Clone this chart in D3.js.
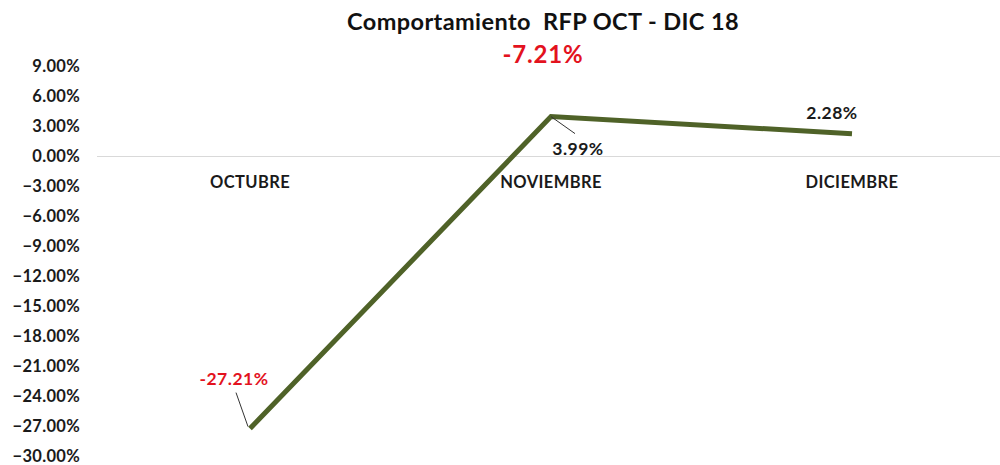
<!DOCTYPE html>
<html><head><meta charset="utf-8">
<script src="https://cdn.jsdelivr.net/npm/d3@7"></script>
<style>body{margin:0;background:#fff}svg{display:block}text{font-family:Lato,"Open Sans",sans-serif;font-weight:bold}</style>
</head><body><svg id="c" width="1000" height="465"></svg>
<script>
const categories = ["OCTUBRE","NOVIEMBRE","DICIEMBRE"];
const values = [-27.21, 3.99, 2.28];
const labels = ["-27.21%","3.99%","2.28%"];
const labelColors = ["#e3121e","#1a1a1a","#1a1a1a"];
const yTicks = [9,6,3,0,-3,-6,-9,-12,-15,-18,-21,-24,-27,-30];
const title = "Comportamiento  RFP OCT - DIC 18";
const subtitle = "-7.21%";

const svg = d3.select("#c");
const x = d3.scalePoint().domain(categories).range([250, 852]);
const y = d3.scaleLinear().domain([-30, 9]).range([456.5, 66.5]);

// zero line
svg.append("line").attr("x1", 97).attr("x2", 1000).attr("y1", y(0)).attr("y2", y(0))
  .attr("stroke", "#d9d9d9").attr("stroke-width", 1.2);

// y axis labels
const yAxis = d3.axisLeft(y).tickValues(yTicks).tickFormat(d => d3.format(".2f")(d) + "%").tickSize(0).tickPadding(0);
const ga = svg.append("g").attr("transform", "translate(80,0)").call(yAxis);
ga.select(".domain").remove();
ga.selectAll("text").attr("font-size", 16.5).attr("fill", "#1a1a1a").attr("font-family", "Lato")
  .attr("font-weight", "bold").attr("letter-spacing", 0.3);

// category labels
svg.append("g").selectAll("text").data(categories).join("text")
  .attr("x", d => x(d)).attr("y", y(0) + 31).attr("text-anchor", "middle")
  .attr("font-size", 16.5).attr("letter-spacing", 0.4).attr("fill", "#1a1a1a").text(d => d);

// line
const pts = categories.map((c, i) => ({c, v: values[i], i}));
svg.append("path").datum(pts)
  .attr("d", d3.line().x(d => x(d.c)).y(d => y(d.v)))
  .attr("fill", "none").attr("stroke", "#4f6228").attr("stroke-width", 5).attr("stroke-linejoin", "miter");

// data labels with leader lines
const off = [{dx:-16, dy:-44, lx:-14, ly:-36}, {dx:27, dy:38, lx:24, ly:17}, {dx:-20, dy:-15, lx:null}];
pts.forEach((p, i) => {
  const px = x(p.c), py = y(p.v), o = off[i];
  if (o.lx !== null) {
    svg.append("line").attr("x1", px - (i===0?2:0)).attr("y1", py - (i===0?2:0))
      .attr("x2", px + o.lx).attr("y2", py + o.ly).attr("stroke", "#333").attr("stroke-width", 1);
  }
  svg.append("text").attr("x", px + o.dx).attr("y", py + o.dy).attr("text-anchor", "middle")
    .attr("font-size", 17.5).attr("letter-spacing", 0.5).attr("fill", labelColors[i]).text(labels[i]);
});

// titles
svg.append("text").attr("x", 543).attr("y", 30).attr("text-anchor", "middle")
  .attr("font-size", 23.5).attr("letter-spacing", 0.4).attr("fill", "#111").style("white-space", "pre").text(title);
svg.append("text").attr("x", 543).attr("y", 63).attr("text-anchor", "middle")
  .attr("font-size", 24).attr("letter-spacing", 0.8).attr("fill", "#e3121e").text(subtitle);
</script></body></html>
